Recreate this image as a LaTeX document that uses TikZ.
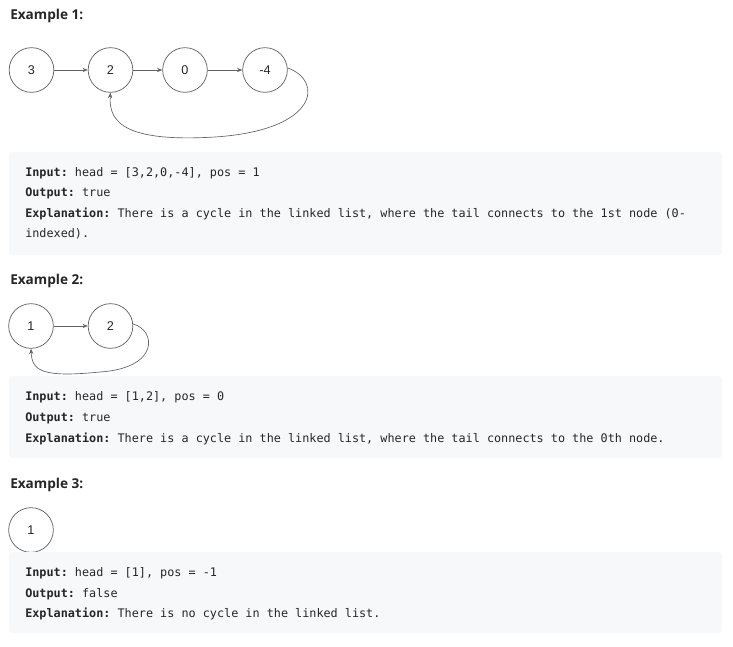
\documentclass[tikz,border=0pt]{standalone}
\usepackage{fontspec}
\setmainfont{Open Sans}
\setsansfont{Liberation Sans}
\setmonofont{DejaVu Sans Mono}
\usetikzlibrary{arrows.meta}
\definecolor{txt}{RGB}{38,38,38}
\definecolor{boxbg}{RGB}{247,248,250}
\definecolor{edge}{RGB}{100,100,100}
\tikzset{
  heading/.style={anchor=base west, inner sep=0pt, font=\fontsize{10.2}{12}\selectfont\bfseries, text=txt},
  listnode/.style={circle, draw=edge, line width=0.55pt, minimum size=33.5pt, inner sep=0pt, font=\sffamily\fontsize{9.5}{11}\selectfont, text=txt},
  link/.style={draw=edge, line width=0.5pt, -{Stealth[length=4pt,width=3.2pt]}},
  codebox/.style={fill=boxbg, rounded corners=2.5pt},
  codeline/.style={anchor=base west, inner sep=0pt, font=\ttfamily\fontsize{8.85}{11}\selectfont, text=txt}
}
\begin{document}
\begin{tikzpicture}[x=0.75pt,y=-0.75pt]
\useasboundingbox[fill=white] (0,0) rectangle (733,647);

% ---------- Example 1 ----------
\node[heading] (h1) at (10,19) {Example 1:};
\node[listnode] (a1) at (31.5,70) {3};
\node[listnode] (a2) at (110.5,70) {2};
\node[listnode] (a3) at (185,70) {0};
\node[listnode] (a4) at (265,70) {-4};
\draw[link] (a1) -- (a2);
\draw[link] (a2) -- (a3);
\draw[link] (a3) -- (a4);
\draw[link] (a4.5) .. controls (323,80) and (320,130) .. (215,137)
   .. controls (130,142) and (108,125) .. (a2.south);

\fill[codebox] (9,152) rectangle (722,255);
\node[codeline] (t1a) at (25,176) {\textbf{Input:} head = [3,2,0,-4], pos = 1};
\node[codeline] (t1b) at (25,196.5) {\textbf{Output:} true};
\node[codeline] (t1c) at (25,217) {\textbf{Explanation:} There is a cycle in the linked list, where the tail connects to the 1st node (0-};
\node[codeline] (t1d) at (25,237.5) {indexed).};

% ---------- Example 2 ----------
\node[heading] (h2) at (10,284) {Example 2:};
\node[listnode] (b1) at (31,326) {1};
\node[listnode] (b2) at (110.5,326) {2};
\draw[link] (b1) -- (b2);
\draw[link] (b2.5) .. controls (156,330) and (160,368) .. (100,372)
   .. controls (40,378) and (32,370) .. (b1.south);

\fill[codebox] (9,376) rectangle (722,458);
\node[codeline] (t2a) at (25,400) {\textbf{Input:} head = [1,2], pos = 0};
\node[codeline] (t2b) at (25,421) {\textbf{Output:} true};
\node[codeline] (t2c) at (25,442) {\textbf{Explanation:} There is a cycle in the linked list, where the tail connects to the 0th node.};

% ---------- Example 3 ----------
\node[heading] (h3) at (10,488) {Example 3:};
\node[listnode] (c1) at (31,530) {1};

\fill[codebox] (9,552) rectangle (722,633);
\node[codeline] (t3a) at (25,576) {\textbf{Input:} head = [1], pos = -1};
\node[codeline] (t3b) at (25,597) {\textbf{Output:} false};
\node[codeline] (t3c) at (25,617.5) {\textbf{Explanation:} There is no cycle in the linked list.};
\end{tikzpicture}
\end{document}
